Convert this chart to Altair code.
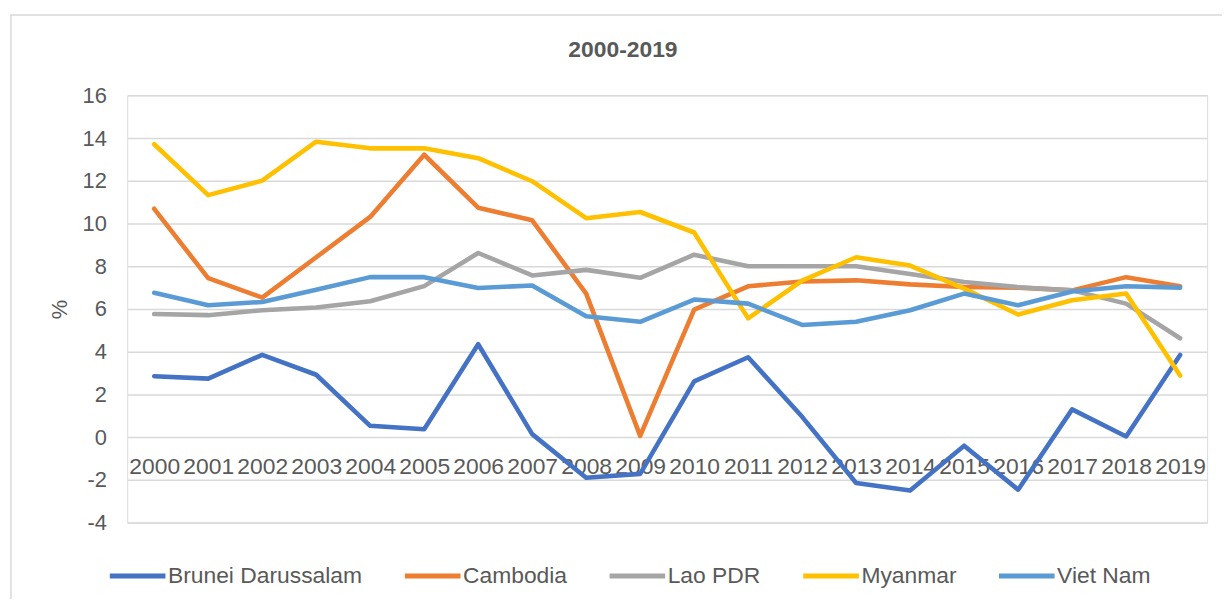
import altair as alt
import pandas as pd

years = ["2000", "2001", "2002", "2003", "2004", "2005", "2006", "2007", "2008", "2009",
         "2010", "2011", "2012", "2013", "2014", "2015", "2016", "2017", "2018", "2019"]
countries = ["Brunei Darussalam", "Cambodia", "Lao PDR", "Myanmar", "Viet Nam"]
colors = ["#4472C4", "#ED7D31", "#A5A5A5", "#FFC000", "#5B9BD5"]

brunei = [2.85, 2.74, 3.85, 2.92, 0.53, 0.37, 4.35, 0.14, -1.9, -1.72,
          2.61, 3.74, 0.95, -2.15, -2.5, -0.4, -2.46, 1.3, 0.03, 3.85]
cambodia = [10.69, 7.44, 6.53, 8.42, 10.31, 13.22, 10.74, 10.15, 6.72, 0.06,
            5.97, 7.06, 7.29, 7.34, 7.15, 7.03, 7.0, 6.87, 7.49, 7.06]
lao = [5.76, 5.71, 5.94, 6.07, 6.36, 7.07, 8.62, 7.57, 7.83, 7.46,
       8.54, 8.0, 8.0, 8.0, 7.64, 7.26, 7.02, 6.87, 6.25, 4.63]
myanmar = [13.71, 11.33, 12.01, 13.83, 13.52, 13.52, 13.06, 11.98, 10.25, 10.54,
           9.58, 5.56, 7.33, 8.42, 8.03, 6.95, 5.74, 6.41, 6.72, 2.88]
vietnam = [6.76, 6.17, 6.33, 6.9, 7.49, 7.49, 6.98, 7.1, 5.66, 5.4,
           6.44, 6.25, 5.25, 5.4, 5.94, 6.72, 6.17, 6.82, 7.06, 7.0]

series = [brunei, cambodia, lao, myanmar, vietnam]
rows = []
for ci, (c, vals) in enumerate(zip(countries, series)):
    for y, v in zip(years, vals):
        rows.append({"Year": y, "Country": c, "Value": v, "order": ci})
df = pd.DataFrame(rows)

FONT = "Liberation Sans"
GREY = "#595959"

lines = alt.Chart(df).mark_line(strokeWidth=4.6, strokeCap="round", strokeJoin="round").encode(
    x=alt.X("Year:O", scale=alt.Scale(type="point", padding=0.5),
            axis=alt.Axis(title=None, orient="bottom", offset=-86, domain=False, ticks=False,
                          tickSize=0, grid=False, labelAngle=0, labelPadding=19,
                          labelFontSize=23, labelFont=FONT, labelColor=GREY,
                          labelOverlap=False, labelBound=False, labelFlush=False)),
    y=alt.Y("Value:Q", scale=alt.Scale(domain=[-4, 16], nice=False, zero=False),
            axis=alt.Axis(title="%", values=[-4, -2, 0, 2, 4, 6, 8, 10, 12, 14, 16],
                          labelExpr="'' + datum.value",
                          domain=False, ticks=False, tickSize=0, labelPadding=21,
                          labelFontSize=22, labelFont=FONT, labelColor=GREY,
                          grid=True, gridColor="#D9D9D9", gridWidth=1.5,
                          titleFont=FONT, titleFontSize=22, titleFontWeight="normal",
                          titleColor=GREY, titleX=-68, titleY=215, titleAngle=-90,
                          titleAlign="center", titleBaseline="middle")),
    color=alt.Color("Country:N", scale=alt.Scale(domain=countries, range=colors),
                    legend=alt.Legend(title=None, orient="none", legendX=-20, legendY=453,
                                      direction="horizontal", symbolType="stroke",
                                      symbolSize=3136, symbolStrokeWidth=5,
                                      labelFontSize=23, labelFont=FONT, labelColor=GREY,
                                      labelLimit=0, labelOffset=0, columnPadding=32)),
    detail="Country:N",
    order="order:Q",
)

border = alt.Chart(pd.DataFrame({"a": [0]})).mark_rect(
    filled=False, stroke="#D9D9D9", strokeWidth=1.5
).encode(x=alt.value(-117), x2=alt.value(1120), y=alt.value(-81), y2=alt.value(540))

title = alt.Chart(pd.DataFrame({"t": ["2000-2019"]})).mark_text(
    font=FONT, fontSize=23, fontWeight="bold", color=GREY, align="center", baseline="middle"
).encode(text="t:N", x=alt.value(499), y=alt.value(-46))

chart = alt.layer(border, lines, title).properties(
    width=1087, height=430,
    autosize=alt.AutoSizeParams(type="none"),
    padding={"left": 120, "top": 86, "right": 15, "bottom": 75},
).configure_view(stroke=None).configure(background="white")

chart.save("out.html", embed_options={"renderer": "svg", "actions": False})
